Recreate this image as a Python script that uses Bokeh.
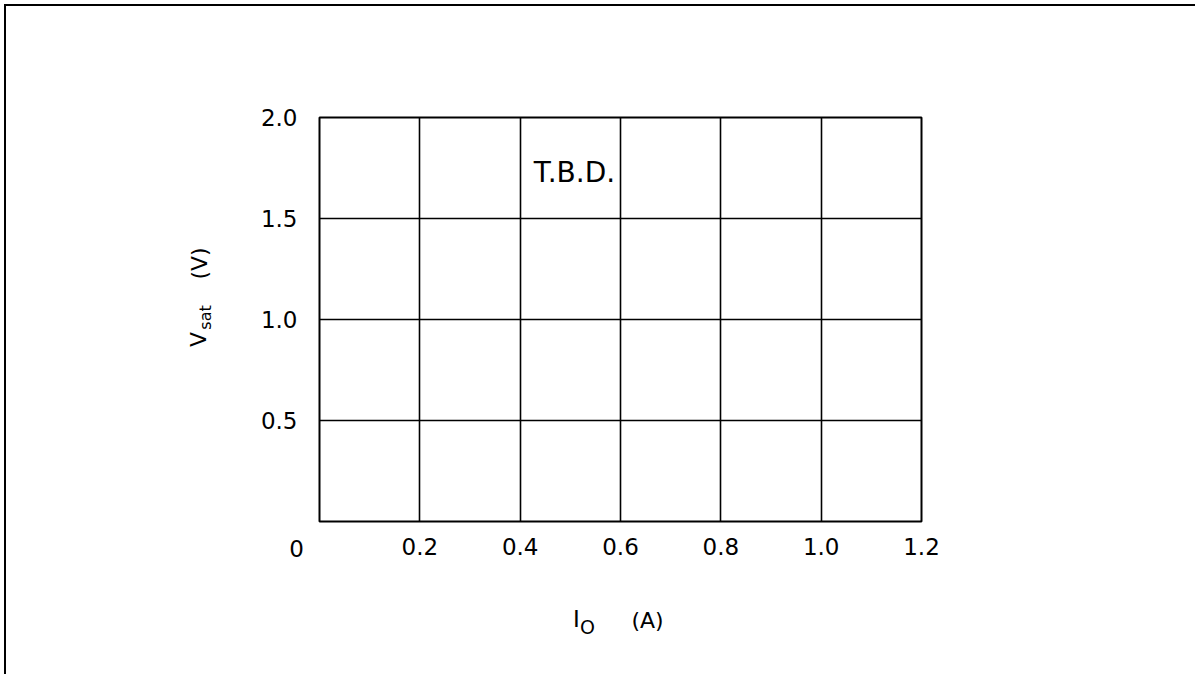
import math
from bokeh.plotting import figure
from bokeh.models import Range1d, FixedTicker, Label
from bokeh.embed import file_html
from bokeh.resources import INLINE

# ---- data ----
x_ticks = [0.2, 0.4, 0.6, 0.8, 1.0, 1.2]
x_tick_labels = ["0.2", "0.4", "0.6", "0.8", "1.0", "1.2"]
y_ticks = [0.5, 1.0, 1.5, 2.0]
y_tick_labels = ["0.5", "1.0", "1.5", "2.0"]
x_grid = [0.2, 0.4, 0.6, 0.8, 1.0]
y_grid = [0.5, 1.0, 1.5]
x_min, x_max = 0.0, 1.2
y_min, y_max = 0.0, 2.0
note_text = "T.B.D."
origin_label = "0"

FONT = "DejaVu Sans"
FW, FH = 602, 404

p = figure(
    output_backend="svg", toolbar_location=None,
    x_range=Range1d(x_min, x_max), y_range=Range1d(y_min, y_max),
    frame_width=FW, frame_height=FH,
    min_border_left=313, min_border_right=274,
    min_border_top=111, min_border_bottom=153,
    background_fill_color="white", border_fill_color="white",
)
p.styles = {"border-top": "2px solid black", "border-left": "2px solid black",
            "margin-top": "4px", "margin-left": "4px"}

p.outline_line_color = "black"
p.outline_line_width = 2

# axes
for ax in (p.xaxis, p.yaxis):
    ax.axis_line_color = None
    ax.major_tick_line_color = None
    ax.minor_tick_line_color = None
    ax.major_tick_out = 0
    ax.major_tick_in = 0
    ax.major_label_text_font = FONT
    ax.major_label_text_font_size = "23px"
    ax.major_label_text_color = "black"

p.xaxis.ticker = FixedTicker(ticks=x_ticks)
p.xaxis.major_label_overrides = dict(zip(x_ticks, x_tick_labels))
p.xaxis.major_label_standoff = 16
p.yaxis.ticker = FixedTicker(ticks=y_ticks)
p.yaxis.major_label_overrides = dict(zip(y_ticks, y_tick_labels))
p.yaxis.major_label_standoff = 22

# grid
p.xgrid.ticker = FixedTicker(ticks=x_grid)
p.ygrid.ticker = FixedTicker(ticks=y_grid)
for g in (p.xgrid, p.ygrid):
    g.grid_line_color = "black"
    g.grid_line_width = 1.6
    g.grid_line_alpha = 1.0

dx = (x_max - x_min) / FW
dy = (y_max - y_min) / FH

def lab(text, px, py, size, angle=0.0, place=None):
    l = Label(
        x=x_min + px * dx, y=y_min + py * dy, text=text,
        text_font=FONT, text_font_size=size, text_color="black",
        text_align="center", text_baseline="middle", angle=angle,
    )
    if place is None:
        p.add_layout(l)
    else:
        p.add_layout(l, place)

# note inside the frame
lab(note_text, 255, 349, "28px")
# corner "0"
lab(origin_label, -23, -27, "23px", place="left")
# x title: I_O (A)
lab("I", 257, -97, "23px", place="below")
lab("O", 268, -105, "19px", place="below")
lab("(A)", 328, -99, "22px", place="below")
# y title: V_sat (V), rotated
lab("V", -121, 182, "22px", angle=math.pi / 2, place="left")
lab("sat", -114, 204, "16px", angle=math.pi / 2, place="left")
lab("(V)", -120, 258, "22px", angle=math.pi / 2, place="left")

open("out.html", "w").write(file_html(p, INLINE))
